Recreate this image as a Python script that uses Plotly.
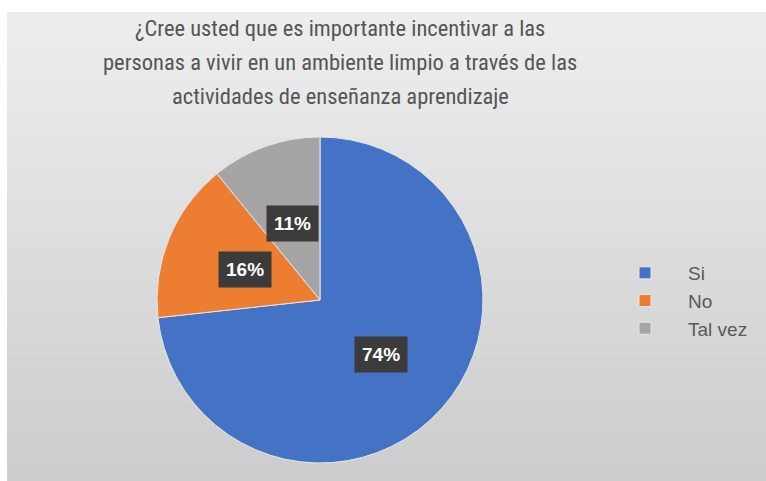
import math
import plotly.graph_objects as go

# ---- data ----
categories = ["Si", "No", "Tal vez"]
percentages = [74, 16, 11]
colors = ["#4472C4", "#ED7D31", "#A5A5A5"]
title_lines = [
    "¿Cree usted que es importante incentivar a las",
    "personas a vivir en un ambiente limpio a través de las",
    "actividades de enseñanza aprendizaje",
]

W, H = 766, 481
# pie placement (pixels)
CX, CY, R = 320, 300, 163

dom_x = [(CX - R) / W, (CX + R) / W]
dom_y = [(H - (CY + R)) / H, (H - (CY - R)) / H]

fig = go.Figure()
fig.add_trace(go.Pie(
    labels=categories,
    values=percentages,
    marker=dict(colors=colors, line=dict(color="#e6e6e6", width=1)),
    sort=False,
    direction="clockwise",
    rotation=0,
    textinfo="none",
    hoverinfo="label+value",
    domain=dict(x=dom_x, y=dom_y),
))

# percentage labels with dark boxes, positioned from slice mid angles
total = sum(percentages)
annotations = []
cum = 0
for cat, v in zip(categories, percentages):
    mid = (cum + v / 2) / total * 2 * math.pi
    cum += v
    rr = 0.5 * R
    ax = (CX + rr * math.sin(mid)) / W
    ay = (H - (CY - rr * math.cos(mid))) / H
    annotations.append(dict(
        x=ax, y=ay, xref="paper", yref="paper",
        text=f"<b>{v}%</b>", showarrow=False,
        font=dict(family="Liberation Sans, Arial, sans-serif", size=19, color="white"),
        bgcolor="#3b3b3b", borderpad=7,
        xanchor="center", yanchor="middle",
    ))

# title lines
title_y = [28, 62, 96]
for line, ty in zip(title_lines, title_y):
    annotations.append(dict(
        x=340 / W, y=1 - ty / H, xref="paper", yref="paper",
        text=line, showarrow=False,
        font=dict(family="Liberation Sans Narrow, Arial Narrow, Roboto Condensed, sans-serif",
                  size=22.5, color="#555555"),
        xanchor="center", yanchor="middle",
    ))

# gradient background (decorative)
shapes = []
x0p, y1p = 7 / W, 1 - 12 / H
n = 30
top_c, bot_c = 238, 204
step = y1p / n
for i in range(n):
    ya = y1p - i * step
    yb = max(0, y1p - (i + 1) * step - 0.004)
    c = round(top_c + (bot_c - top_c) * (i + 0.5) / n)
    col = f"rgb({c},{c},{c})"
    shapes.append(dict(type="rect", xref="paper", yref="paper",
                       x0=x0p, x1=1, y0=yb, y1=ya,
                       fillcolor=col, line=dict(width=0),
                       layer="below"))

fig.update_layout(
    width=W, height=H,
    margin=dict(l=0, r=0, t=0, b=0),
    paper_bgcolor="white",
    plot_bgcolor="white",
    shapes=shapes,
    annotations=annotations,
    showlegend=True,
    legend=dict(
        x=602 / W, y=1 - 301 / H, xanchor="left", yanchor="middle",
        bgcolor="rgba(0,0,0,0)",
        font=dict(family="Liberation Sans, Arial, sans-serif", size=19, color="#595959"),
        itemwidth=76, tracegroupgap=0,
    ),
)

fig.write_html("out.html", config={"displayModeBar": False},
               post_script="document.body.style.margin='0px';")
